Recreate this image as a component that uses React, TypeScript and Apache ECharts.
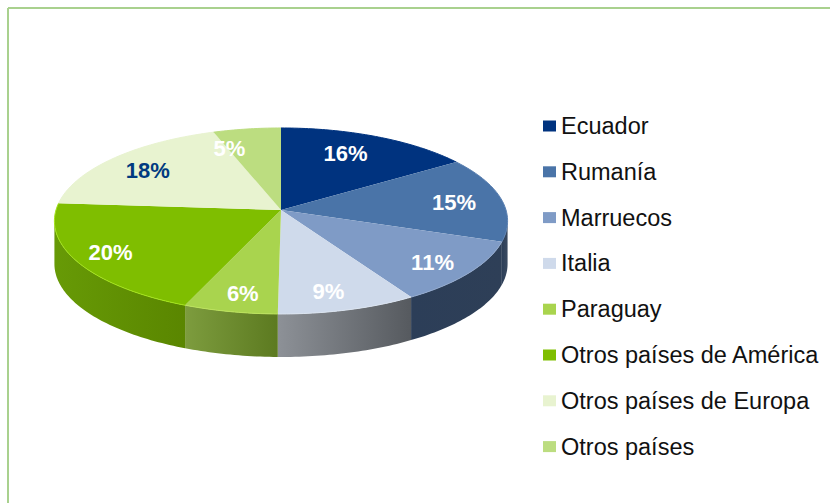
import React, { useEffect, useRef } from "react";
import * as echarts from "echarts";

const categories = ["Ecuador", "Rumanía", "Marruecos", "Italia", "Paraguay", "Otros países de América", "Otros países de Europa", "Otros países"];
const values = [15.6, 14.8, 10.9, 8.9, 6.0, 20.0, 18.4, 5.4];

const topColors = ["#00337f", "#4a74a8", "#7f9bc6", "#cfdaeb", "#a9d44e", "#7fbe00", "#e8f3d0", "#bcdd80"];
const wallLeft = ["#00235a", "#2c3e58", "#2c3e58", "#8d9197", "#7d9c3e", "#679a06", "#7a9c3a", "#7a9c3a"];
const wallRight = ["#00235a", "#3a4a60", "#2e3f57", "#565a5f", "#5c7a20", "#5a8600", "#7a9c3a", "#7a9c3a"];
const rimColors = ["#00337f", "#5a80b2", "#92a9cd", "#dbe4f0", "#bce35c", "#a4e41a", "#e8f3d0", "#bcdd80"];
const labelColors = ["#fff", "#fff", "#fff", "#fff", "#fff", "#fff", "#003a80", "#fff"];
const labelRadius = [0.73, 0.78, 0.83, 0.83, 0.84, 0.84, 0.77, 0.775];
const labelAngleShift = [-3, 1.5, 1.5, 2, -1, 0.5, -1.5, -9];

// Pie drawn as a circle seen in perspective: the apex sits above the centre of the outline.
const CX = 281, APEX_Y = 210, SX = 225, SY = 91.7, PERSP = 0.118, DEPTH = 43;
const WALL_FROM = 96.8, WALL_TO = 263.2;
const total = values.reduce((a, b) => a + b, 0);
const pt = (deg: number, k = 1, dy = 0): [number, number] => {
  const a = (deg * Math.PI) / 180;
  const s = k * Math.sin(a), t = -k * Math.cos(a);
  const w = 1 - PERSP * t;
  return [CX + (SX * s) / w, APEX_Y + (SY * t) / w + dy];
};
const arc = (from: number, to: number, dy = 0) => {
  const out: [number, number][] = [];
  const n = Math.max(2, Math.ceil(Math.abs(to - from)));
  for (let i = 0; i <= n; i++) out.push(pt(from + ((to - from) * i) / n, 1, dy));
  return out;
};

const makeSeries = (idx: number) => ({
  type: "custom",
  name: categories[idx],
  coordinateSystem: "none",
  silent: true,
  itemStyle: { color: topColors[idx] },
  data: [[values[idx]]],
  renderItem: (_p: any, api: any) => {
    const before = values.slice(0, idx).reduce((a, b) => a + b, 0);
    const start = (before / total) * 360;
    const end = start + (api.value(0) / total) * 360;
    const children: any[] = [];
    const ws = Math.max(start, WALL_FROM), we = Math.min(end, WALL_TO);
    if (we > ws) {
      children.push({
        type: "polygon",
        shape: { points: [...arc(ws, we), ...arc(we, ws, DEPTH)] },
        style: {
          fill: new echarts.graphic.LinearGradient(0, 0, 1, 0, [
            { offset: 0, color: wallLeft[idx] },
            { offset: 1, color: wallRight[idx] },
          ]),
        },
      });
    }
    children.push({
      type: "polygon",
      shape: { points: [[CX, APEX_Y], ...arc(start, end)] },
      style: { fill: topColors[idx] },
    });
    children.push({
      type: "polyline",
      shape: { points: arc(start, end) },
      style: { stroke: rimColors[idx], lineWidth: 1, fill: "none" },
    });
    const mid = (start + end) / 2 + labelAngleShift[idx];
    const [lx, ly] = pt(mid, labelRadius[idx]);
    children.push({
      type: "text",
      x: lx,
      y: ly,
      z2: 10,
      style: {
        text: `${Math.round(api.value(0))}%`,
        fill: labelColors[idx],
        font: "bold 22px 'Liberation Sans', Arial, sans-serif",
        align: "center",
        verticalAlign: "middle",
      },
    });
    return { type: "group", children };
  },
});

export default function App() {
  const ref = useRef<HTMLDivElement>(null);
  useEffect(() => {
    document.body.style.margin = "0";
    const chart = echarts.init(ref.current!, null, { renderer: "svg" });
    chart.setOption({
      animation: false,
      backgroundColor: "#fff",
      legend: {
        orient: "vertical",
        left: 538,
        top: 109,
        itemWidth: 13,
        itemHeight: 11,
        itemGap: 21.8,
        icon: "rect",
        selectedMode: false,
        data: categories,
        textStyle: {
          color: "#111",
          fontFamily: "'Liberation Sans', Arial, sans-serif",
          fontSize: 23.5,
          lineHeight: 23,
          padding: [0, 0, 0, 0],
        },
      },
      graphic: [
        { type: "line", shape: { x1: 8, y1: 8, x2: 830, y2: 8 }, style: { stroke: "#a9d18e", lineWidth: 2 } },
        { type: "line", shape: { x1: 8, y1: 8, x2: 8, y2: 503 }, style: { stroke: "#a9d18e", lineWidth: 2 } },
      ],
      series: categories.map((_, i) => makeSeries(i)),
    });
    return () => chart.dispose();
  }, []);
  return <div ref={ref} style={{ width: 830, height: 503 }} />;
}
